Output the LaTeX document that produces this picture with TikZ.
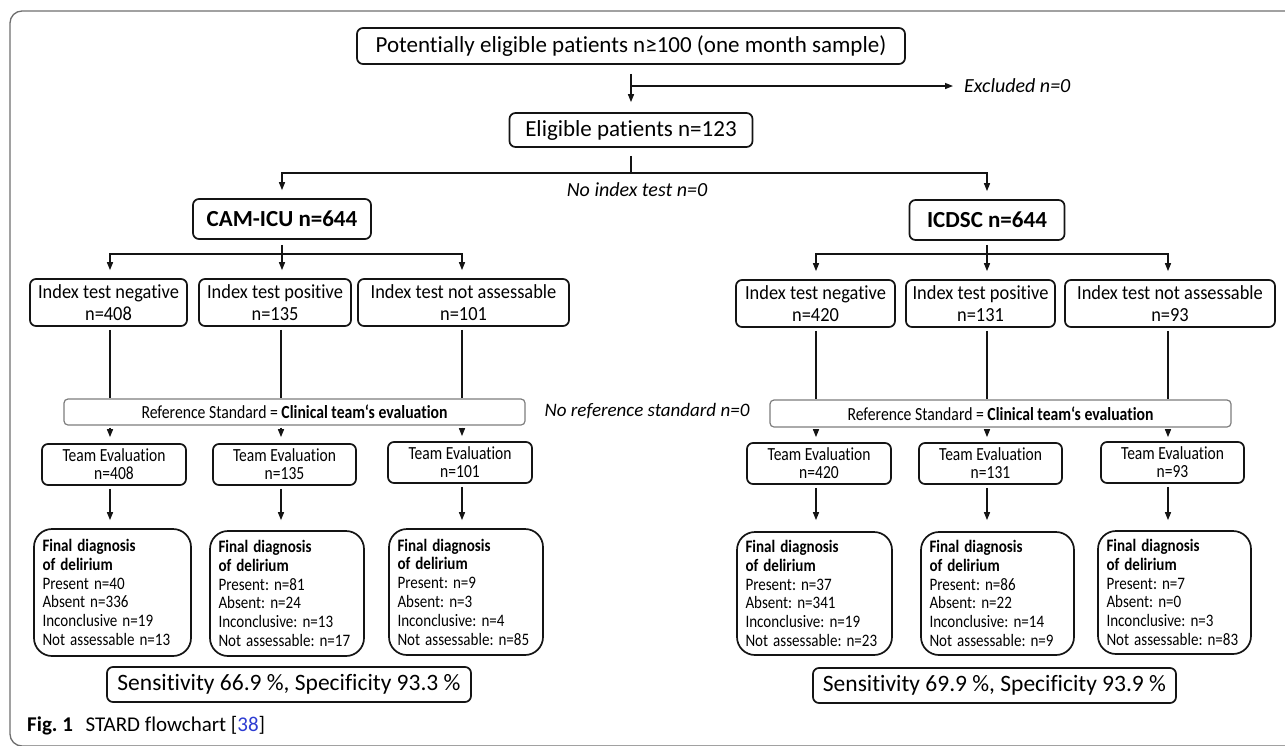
\documentclass[tikz,border=0pt]{standalone}
\usepackage{fontspec}
\setmainfont[Ligatures=NoCommon]{Carlito}
\usetikzlibrary{arrows.meta,calc}
\definecolor{framegray}{RGB}{110,110,110}
\definecolor{refgray}{RGB}{125,125,125}
\definecolor{citeblue}{RGB}{45,60,210}
\definecolor{ink}{RGB}{20,20,20}
\newcommand\fdl[1]{\scalebox{0.86}[1]{#1}}
\newcommand\tml[1]{\scalebox{0.84}[1]{#1}}
\newcommand\rfl[1]{\scalebox{0.85}[1]{#1}}
\newcommand\ixl[1]{\scalebox{0.92}[1]{#1}}
\begin{document}
\frenchspacing
\begin{tikzpicture}[x=1pt,y=-1pt,
  box/.style={draw=ink, line width=1.7pt, rounded corners=6pt, inner sep=0pt, align=center, text=black},
  refbox/.style={draw=refgray, line width=1.2pt, rounded corners=4pt, inner sep=0pt, align=center},
  fdbox/.style={draw=ink, line width=1.7pt, rounded corners=18pt, inner xsep=8.5pt, inner ysep=0pt, align=left, font=\fontsize{17.5}{18.8}\selectfont},
  plain/.style={inner sep=0pt},
  conn/.style={draw=ink, line width=1.4pt},
  arr/.style={conn, -{Triangle[length=8pt,width=6pt]}},
  fsBig/.style={font=\fontsize{23}{27}\selectfont},
  fsSens/.style={font=\fontsize{23.5}{27}\selectfont},
  fsIdx/.style={font=\fontsize{20}{22}\selectfont},
  fsTeam/.style={font=\fontsize{18.5}{18}\selectfont},
  fsRef/.style={font=\fontsize{18.5}{18}\selectfont},
  fsIt/.style={font=\fontsize{20}{22}\selectfont\itshape},
]
\useasboundingbox (0,0) rectangle (1285,745);
% outer frame
\begin{scope}
  \clip (0,0) rectangle (1285,745);
  \draw[framegray, line width=1.3pt, rounded corners=12pt] (10,11) rectangle (1330,746);
\end{scope}

% column coordinates
\coordinate (cL1) at (110,0);
\coordinate (cL2) at (281,0);
\coordinate (cL3) at (462,0);
\coordinate (cR1) at (816,0);
\coordinate (cR2) at (987,0);
\coordinate (cR3) at (1168,0);

% top part
\node[box, fsBig, minimum width=548, minimum height=36] (top) at (631,46) {Potentially eligible patients n≥100 (one month sample)};
\node[box, fsBig, minimum width=243, minimum height=34] (elig) at (631,130) {Eligible patients n=123};
\node[plain, fsIt, anchor=west] (excl) at (964,86) {Excluded n=0};
\node[plain, fsIt] (noidx) at (637,190) {No index test n=0};
\coordinate (exb) at (631,86);
\coordinate (br) at (631,173);

\draw[arr] ($(top.south)+(0,9)$) -- ($(elig.north)+(0,-10)$);
\draw[arr] (exb) -- ($(excl.west)+(-11,0)$);
\draw[conn] ($(elig.south)+(0,8)$) -- (br);

% test boxes
\node[box, minimum width=178, minimum height=40, font=\fontsize{23}{27}\selectfont\bfseries] (cam) at (282,219) {CAM-ICU n=644};
\node[box, minimum width=155, minimum height=40, font=\fontsize{23}{27}\selectfont\bfseries] (icd) at (987,220) {ICDSC n=644};
\draw[arr, shorten >=8pt] (br) -| (cam.north);
\draw[arr, shorten >=8pt] (br) -| (icd.north);

% index boxes left
\node[box, fsIdx, minimum width=157, minimum height=47] (neg1) at (108.5,302.5) {\ixl{Index test negative}\\\ixl{n=408}};
\node[box, fsIdx, minimum width=152, minimum height=47] (pos1) at (275,302.5) {\ixl{Index test positive}\\\ixl{n=135}};
\node[box, fsIdx, minimum width=211, minimum height=47] (not1) at (463.5,302.5) {\ixl{Index test not assessable}\\\ixl{n=101}};
% index boxes right
\node[box, fsIdx, minimum width=159, minimum height=47] (neg2) at (815.5,303.5) {\ixl{Index test negative}\\\ixl{n=420}};
\node[box, fsIdx, minimum width=149, minimum height=47] (pos2) at (980.5,303.5) {\ixl{Index test positive}\\\ixl{n=131}};
\node[box, fsIdx, minimum width=210, minimum height=47] (not2) at (1170,303.5) {\ixl{Index test not assessable}\\\ixl{n=93}};

% branches from tests
\draw[arr] ($(cam.south)+(0,5)$) -- ($(pos1.north -| cam.south)+(0,-8)$);
\draw[arr] ($(cam.south)+(0,14)$) -| ($(neg1.north -| cL1)+(0,-8)$);
\draw[arr] ($(cam.south)+(0,14)$) -| ($(not1.north -| cL3)+(0,-8)$);
\draw[arr] ($(icd.south)+(0,4)$) -- ($(pos2.north -| icd.south)+(0,-8)$);
\draw[arr] ($(icd.south)+(0,13)$) -| ($(neg2.north -| cR1)+(0,-8)$);
\draw[arr] ($(icd.south)+(0,13)$) -| ($(not2.north -| cR3)+(0,-8)$);

% reference standard boxes
\node[refbox, fsRef, minimum width=461, minimum height=26] (ref1) at (294.5,412) {\rfl{Reference Standard = \textbf{Clinical team‘s evaluation}}};
\node[refbox, fsRef, minimum width=461, minimum height=27] (ref2) at (1000.5,413.5) {\rfl{Reference Standard = \textbf{Clinical team‘s evaluation}}};
\node[plain, font=\fontsize{19}{22}\selectfont\itshape] (noref) at (647,411) {No reference standard n=0};

\draw[conn] ($(neg1.south -| cL1)+(0,3)$) -- (ref1.north -| cL1);
\draw[conn] ($(pos1.south -| cL2)+(0,3)$) -- (ref1.north -| cL2);
\draw[conn] ($(not1.south -| cL3)+(0,3)$) -- (ref1.north -| cL3);
\draw[conn] ($(neg2.south -| cR1)+(0,3)$) -- (ref2.north -| cR1);
\draw[conn] ($(pos2.south -| cR2)+(0,3)$) -- (ref2.north -| cR2);
\draw[conn] ($(not2.south -| cR3)+(0,3)$) -- (ref2.north -| cR3);

% team evaluation boxes
\node[box, fsTeam, minimum width=144, minimum height=41] (te1) at (114,464.5) {\tml{Team Evaluation}\\\tml{n=408}};
\node[box, fsTeam, minimum width=143, minimum height=41] (te2) at (284.5,464.5) {\tml{Team Evaluation}\\\tml{n=135}};
\node[box, fsTeam, minimum width=144, minimum height=41] (te3) at (460,462.5) {\tml{Team Evaluation}\\\tml{n=101}};
\node[box, fsTeam, minimum width=144, minimum height=41] (te4) at (819,463.5) {\tml{Team Evaluation}\\\tml{n=420}};
\node[box, fsTeam, minimum width=143, minimum height=41] (te5) at (990.5,463.5) {\tml{Team Evaluation}\\\tml{n=131}};
\node[box, fsTeam, minimum width=143, minimum height=41] (te6) at (1172.5,462.5) {\tml{Team Evaluation}\\\tml{n=93}};

\draw[arr] ($(ref1.south -| cL1)+(0,2)$) -- ($(te1.north -| cL1)+(0,-6)$);
\draw[arr] ($(ref1.south -| cL2)+(0,2)$) -- ($(te2.north -| cL2)+(0,-6)$);
\draw[arr] ($(ref1.south -| cL3)+(0,2)$) -- ($(te3.north -| cL3)+(0,-5)$);
\draw[arr] ($(ref2.south -| cR1)+(0,2)$) -- ($(te4.north -| cR1)+(0,-5)$);
\draw[arr] ($(ref2.south -| cR2)+(0,2)$) -- ($(te5.north -| cR2)+(0,-5)$);
\draw[arr] ($(ref2.south -| cR3)+(0,2)$) -- ($(te6.north -| cR3)+(0,-4)$);

% final diagnosis boxes
\node[fdbox, text width=140, minimum height=127] (fd1) at (112.5,592.5) {\fdl{\textbf{Final diagnosis}}\\\fdl{\textbf{of delirium}}\\\fdl{Present n=40}\\\fdl{Absent n=336}\\\fdl{Inconclusive n=19}\\\fdl{Not assessable n=13}};
\node[fdbox, text width=137, minimum height=125] (fd2) at (287,593.5) {\fdl{\textbf{Final diagnosis}}\\\fdl{\textbf{of delirium}}\\\fdl{Present: n=81}\\\fdl{Absent: n=24}\\\fdl{Inconclusive: n=13}\\\fdl{Not assessable: n=17}};
\node[fdbox, text width=137, minimum height=126] (fd3) at (466,592) {\fdl{\textbf{Final diagnosis}}\\\fdl{\textbf{of delirium}}\\\fdl{Present: n=9}\\\fdl{Absent: n=3}\\\fdl{Inconclusive: n=4}\\\fdl{Not assessable: n=85}};
\node[fdbox, text width=138, minimum height=123] (fd4) at (814.5,593.5) {\fdl{\textbf{Final diagnosis}}\\\fdl{\textbf{of delirium}}\\\fdl{Present: n=37}\\\fdl{Absent: n=341}\\\fdl{Inconclusive: n=19}\\\fdl{Not assessable: n=23}};
\node[fdbox, text width=136, minimum height=123] (fd5) at (997.5,593.5) {\fdl{\textbf{Final diagnosis}}\\\fdl{\textbf{of delirium}}\\\fdl{Present: n=86}\\\fdl{Absent: n=22}\\\fdl{Inconclusive: n=14}\\\fdl{Not assessable: n=9}};
\node[fdbox, text width=136, minimum height=123] (fd6) at (1174.5,592.5) {\fdl{\textbf{Final diagnosis}}\\\fdl{\textbf{of delirium}}\\\fdl{Present: n=7}\\\fdl{Absent: n=0}\\\fdl{Inconclusive: n=3}\\\fdl{Not assessable: n=83}};

\draw[arr] ($(te1.south -| cL1)+(0,3)$) -- ($(fd1.north -| cL1)+(0,-8)$);
\draw[arr] ($(te2.south -| cL2)+(0,3)$) -- ($(fd2.north -| cL2)+(0,-10)$);
\draw[arr] ($(te3.south -| cL3)+(0,3)$) -- ($(fd3.north -| cL3)+(0,-8)$);
\draw[arr] ($(te4.south -| cR1)+(0,3)$) -- ($(fd4.north -| cR1)+(0,-11)$);
\draw[arr] ($(te5.south -| cR2)+(0,3)$) -- ($(fd5.north -| cR2)+(0,-11)$);
\draw[arr] ($(te6.south -| cR3)+(0,3)$) -- ($(fd6.north -| cR3)+(0,-10)$);

% sensitivity boxes
\node[box, fsSens, minimum width=364, minimum height=35] (sens1) at (289,684.5) {Sensitivity 66.9 \%, Specificity 93.3 \%};
\node[box, fsSens, minimum width=363, minimum height=35] (sens2) at (994.5,685.5) {Sensitivity 69.9 \%, Specificity 93.9 \%};

% caption
\node[plain, anchor=base west, font=\fontsize{21}{24}\selectfont] (cap) at (27,731) {\textbf{Fig. 1}\hspace{0.6em}STARD flowchart [\textcolor{citeblue}{38}]};
\end{tikzpicture}
\end{document}
